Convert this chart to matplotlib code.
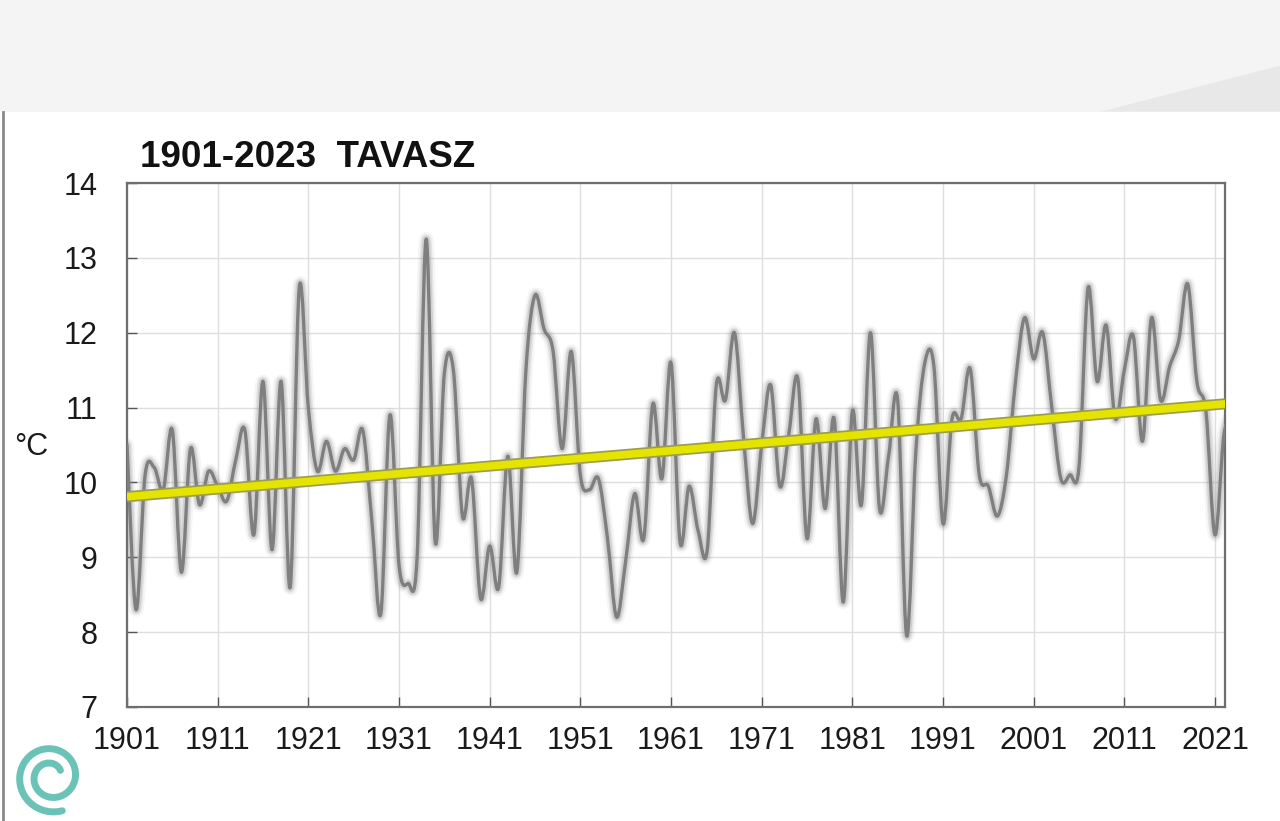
import numpy as np
import matplotlib
matplotlib.use("Agg")
import matplotlib.pyplot as plt
import matplotlib.patches as mpatches
import matplotlib.patheffects as pe
from matplotlib.path import Path

plt.rcParams["font.family"] = ["Liberation Sans", "DejaVu Sans"]

# spring mean temperature, Hungary
years = np.arange(1901, 2024)
temps = [
    10.5, 8.3, 10.1, 10.2, 9.9, 10.7, 8.8, 10.45, 9.7, 10.15,       # 1901-1910
    9.95, 9.75, 10.3, 10.7, 9.3, 11.35, 9.1, 11.35, 8.6, 12.6,      # 1911-1920
    11.0, 10.15, 10.55, 10.15, 10.45, 10.3, 10.7, 9.5, 8.25, 10.9,  # 1921-1930
    8.9, 8.65, 9.0, 13.25, 9.2, 11.45, 11.5, 9.55, 10.05, 8.45,     # 1931-1940
    9.15, 8.6, 10.35, 8.8, 11.5, 12.5, 12.05, 11.75, 10.45, 11.75,  # 1941-1950
    10.1, 9.9, 10.05, 9.25, 8.2, 8.95, 9.85, 9.25, 11.05, 10.05,    # 1951-1960
    11.6, 9.2, 9.95, 9.35, 9.1, 11.3, 11.1, 12.0, 10.6, 9.45,       # 1961-1970
    10.5, 11.3, 9.95, 10.65, 11.38, 9.25, 10.85, 9.65, 10.85, 8.4,  # 1971-1980
    10.95, 9.7, 12.0, 9.65, 10.35, 11.1, 7.95, 10.4, 11.6, 11.55,   # 1981-1990
    9.45, 10.85, 10.85, 11.52, 10.1, 9.95, 9.55, 10.1, 11.35, 12.2, # 1991-2000
    11.65, 12.0, 11.0, 10.05, 10.1, 10.2, 12.6, 11.35, 12.1, 10.85, # 2001-2010
    11.5, 11.95, 10.55, 12.2, 11.1, 11.55, 11.9, 12.65, 11.35, 10.95, # 2011-2020
    9.3, 10.65, 10.9,                                                 # 2021-2023
]
tick_years = list(range(1901, 2022, 10))
y_ticks = list(range(7, 15))

x = years.astype(float)
y = np.array(temps)

# smooth curve through the yearly values (Catmull-Rom as cubic Bezier segments)
verts = [(x[0], y[0])]
codes = [Path.MOVETO]
n = len(x)
for i in range(n - 1):
    p0 = max(i - 1, 0)
    p3 = min(i + 2, n - 1)
    c1 = (x[i] + (x[i + 1] - x[p0]) / 6, y[i] + (y[i + 1] - y[p0]) / 6)
    c2 = (x[i + 1] - (x[p3] - x[i]) / 6, y[i + 1] - (y[p3] - y[i]) / 6)
    verts += [c1, c2, (x[i + 1], y[i + 1])]
    codes += [Path.CURVE4] * 3
curve = Path(verts, codes)

fig = plt.figure(figsize=(12.8, 8.21), dpi=100)
fig.patch.set_facecolor("white")

# grey banner on top with the light swoosh
fig.patches.append(mpatches.Rectangle((0, 0.864), 1, 0.136, transform=fig.transFigure,
                                      facecolor="#f4f4f4", edgecolor="none", zorder=0))
fig.patches.append(mpatches.Polygon([(0.86, 0.864), (1.0, 0.92), (1.0, 0.864)],
                                    closed=True, transform=fig.transFigure,
                                    facecolor="#e8e8e8", edgecolor="none", zorder=0))
fig.add_artist(plt.Line2D([0.002, 0.002], [0, 0.864], transform=fig.transFigure,
                          color="#8a8a8a", lw=2))

ax = fig.add_axes([0.0992, 0.1389, 0.8578, 0.6382])

for lw, a in [(10, 0.08), (7, 0.14), (5, 0.2)]:
    ax.add_patch(mpatches.PathPatch(curve, fill=False, edgecolor="#808080",
                                    lw=lw, alpha=a, capstyle="round", joinstyle="round"))
ax.add_patch(mpatches.PathPatch(curve, fill=False, edgecolor="#7f7f7f", lw=2.4,
                                capstyle="round", joinstyle="round", zorder=3))

# linear trend
slope, icpt = np.polyfit(x, y, 1)
tx = np.array([1901, 2023])
ax.plot(tx, slope * tx + icpt, color="#e4e400", lw=5.5, zorder=4, solid_capstyle="butt",
        path_effects=[pe.Stroke(linewidth=8, foreground="#9c9c50"), pe.Normal()])

ax.set_xlim(1901, 2022.1)
ax.set_ylim(7, 14)
ax.set_xticks(tick_years)
ax.set_yticks(y_ticks)
ax.tick_params(axis="both", direction="in", length=7, width=1, color="#555555",
               labelsize=22, labelcolor="#1a1a1a")
ax.tick_params(axis="x", pad=14)
ax.tick_params(axis="y", pad=21)
ax.grid(True, color="#dedede", lw=1)
ax.set_axisbelow(True)
for s in ax.spines.values():
    s.set_color("#6e6e6e")
    s.set_linewidth(1.6)

fig.text(0.109, 0.797, "1901-2023  TAVASZ", fontsize=26.5, fontweight="bold",
         color="#111111", va="baseline")
fig.text(0.011, 0.456, "°C", fontsize=22, color="#1a1a1a", va="center")

# small spiral logo in the lower left corner
t = np.linspace(0.6, 3.6 * np.pi, 200)
r = 0.012 + 0.0028 * t
sx = 0.04 + r * np.cos(t) * 0.64
sy = 0.054 + r * np.sin(t)
fig.add_artist(plt.Line2D(sx, sy, transform=fig.transFigure, color="#5bbcb0",
                          lw=5, solid_capstyle="round", alpha=0.9))

fig.savefig("out.png", dpi=100)
